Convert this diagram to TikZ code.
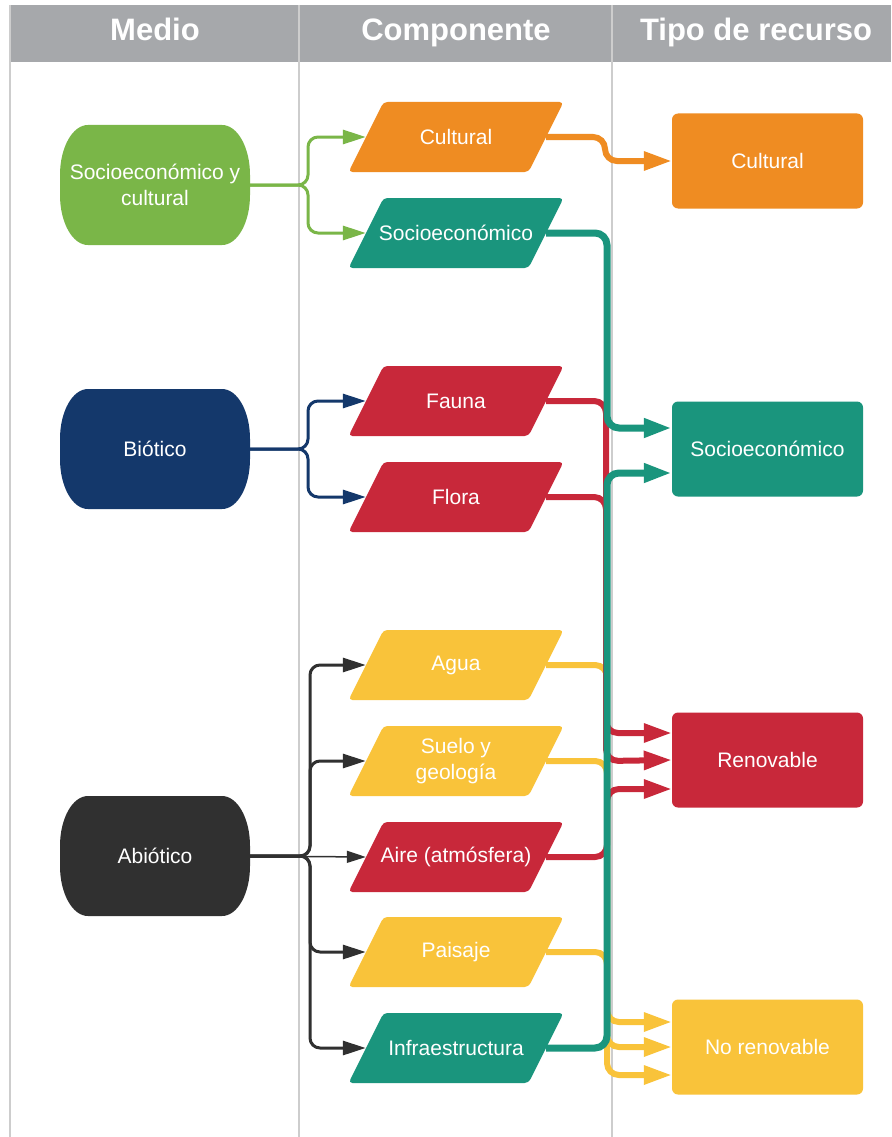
\documentclass[tikz,border=0pt]{standalone}
\usepackage{fontspec}
\setmainfont{Liberation Sans}
\usetikzlibrary{arrows.meta,calc}
\definecolor{cgreen}{HTML}{7AB648}
\definecolor{cnavy}{HTML}{14386B}
\definecolor{cdark}{HTML}{303030}
\definecolor{corange}{HTML}{EF8C22}
\definecolor{cteal}{HTML}{1A957D}
\definecolor{cred}{HTML}{C8283A}
\definecolor{cyellow}{HTML}{F9C33A}
\definecolor{headgray}{HTML}{A6A8AB}
\definecolor{gridgray}{HTML}{CDCDCD}
\tikzset{
  headtext/.style={text=white, font=\fontsize{31}{36}\selectfont\bfseries, inner sep=0pt, anchor=base},
  bodyfont/.style={text=white, font=\fontsize{21}{26}\selectfont, align=center, inner sep=0pt},
  comptext/.style={bodyfont, minimum width=180pt, minimum height=70pt},
  mediotext/.style={bodyfont, minimum width=190pt, minimum height=120pt},
  tipobox/.style={bodyfont, rectangle, rounded corners=6pt, minimum width=191pt, minimum height=95pt},
  gridline/.style={draw=gridgray, line width=2pt},
  leftarr/.style={line width=3pt, rounded corners=10pt, -{Triangle[length=23pt,width=14pt]}},
  thinarr/.style={line width=1.5pt, -{Triangle[length=19pt,width=12pt]}},
  rightarr/.style={line width=6pt, rounded corners=12pt, -{Triangle[length=28pt,width=18pt]}},
  tealarr/.style={rightarr, line width=7pt}
}
% parallelogram component: name, cx, cy, colour, text
\newcommand\compnode[5]{%
  \fill[#4, rounded corners=4pt] (#2-72.5,#3-35) -- (#2+107.5,#3-35) -- (#2+72.5,#3+35) -- (#2-107.5,#3+35) -- cycle;
  \node[comptext] (#1) at (#2,#3) {#5};}
% rounded "stadium" medio: name, cx, cy, colour, text
\newcommand\medionode[5]{%
  \fill[#4] (#2-67,#3-60) -- (#2+67,#3-60)
    .. controls (#2+82.5,#3-60) and (#2+95,#3-37.6) .. (#2+95,#3-10) -- (#2+95,#3+10)
    .. controls (#2+95,#3+37.6) and (#2+82.5,#3+60) .. (#2+67,#3+60) -- (#2-67,#3+60)
    .. controls (#2-82.5,#3+60) and (#2-95,#3+37.6) .. (#2-95,#3+10) -- (#2-95,#3-10)
    .. controls (#2-95,#3-37.6) and (#2-82.5,#3-60) .. cycle;
  \node[mediotext] (#1) at (#2,#3) {#5};}
\begin{document}
\begin{tikzpicture}[x=1pt,y=-1pt]
\useasboundingbox (0,0) rectangle (891,1137);
\fill[white] (0,0) rectangle (891,1137);
% header and grid
\fill[headgray] (10,5) rectangle (891,62);
\draw[gridline] (10,5) -- (10,1137);
\draw[gridline] (299,5) -- (299,1137);
\draw[gridline] (612,5) -- (612,1137);
\node[headtext] (hMedio) at (155,41) {Medio};
\node[headtext] (hComp) at (456,41) {Componente};
\node[headtext] (hTipo) at (756,41) {Tipo de recurso};
% medio
\medionode{sc}{155}{185}{cgreen}{Socioeconómico y\\cultural}
\medionode{bio}{155}{449}{cnavy}{Biótico}
\medionode{abio}{155}{856}{cdark}{Abiótico}
% componentes
\compnode{cultC}{456}{137}{corange}{Cultural}
\compnode{socC}{456}{233}{cteal}{Socioeconómico}
\compnode{fauC}{456}{401}{cred}{Fauna}
\compnode{floC}{456}{497}{cred}{Flora}
\compnode{aguaC}{456}{665}{cyellow}{Agua}
\compnode{sueC}{456}{761}{cyellow}{Suelo y\\geología}
\compnode{aireC}{456}{857}{cred}{Aire (atmósfera)}
\compnode{paiC}{456}{952}{cyellow}{Paisaje}
\compnode{infC}{456}{1048}{cteal}{Infraestructura}
% tipos de recurso
\node[tipobox, fill=corange] (cultR) at (767.5,161) {Cultural};
\node[tipobox, fill=cteal] (socR) at (767.5,449) {Socioeconómico};
\node[tipobox, fill=cred] (renR) at (767.5,760) {Renovable};
\node[tipobox, fill=cyellow] (noR) at (767.5,1047) {No renovable};
% left connectors
\draw[leftarr, color=cgreen] (sc.east) -- (308,185) -- (308,137) -- (cultC.west);
\draw[leftarr, color=cgreen] (sc.east) -- (308,185) -- (308,233) -- (socC.west);
\draw[leftarr, color=cnavy] (bio.east) -- (308,449) -- (308,401) -- (fauC.west);
\draw[leftarr, color=cnavy] (bio.east) -- (308,449) -- (308,497) -- (floC.west);
\draw[leftarr, color=cdark] (abio.east) -- (310,856) -- (310,665) -- (aguaC.west);
\draw[leftarr, color=cdark] (abio.east) -- (310,856) -- (310,761) -- (sueC.west);
\draw[thinarr, color=cdark] (abio.east) -- (aireC.west);
\draw[leftarr, color=cdark] (abio.east) -- (310,856) -- (310,952) -- (paiC.west);
\draw[leftarr, color=cdark] (abio.east) -- (310,856) -- (310,1048) -- (infC.west);
% right connectors: yellow
\draw[rightarr, color=cyellow] (aguaC.east) -- (607,665) -- (607,1022) -- ($(noR.west)+(0,-25)$);
\draw[rightarr, color=cyellow] (sueC.east) -- (607,761) -- (607,1047) -- (noR.west);
\draw[rightarr, color=cyellow] (paiC.east) -- (607,952) -- (607,1075) -- ($(noR.west)+(0,28)$);
% red
\draw[rightarr, color=cred] (fauC.east) -- (606,401) -- (606,733) -- ($(renR.west)+(0,-27)$);
\draw[rightarr, color=cred] (floC.east) -- (606,497) -- (606,761) -- (renR.west);
\draw[rightarr, color=cred] (aireC.east) -- (607,857) -- (607,789) -- ($(renR.west)+(0,29)$);
% orange
\draw[rightarr, color=corange] (cultC.east) -- (605,137) -- (605,161) -- (cultR.west);
% teal
\draw[tealarr, color=cteal] (socC.east) -- (607,233) -- (607,428) -- ($(socR.west)+(0,-21)$);
\draw[tealarr, color=cteal] (infC.east) -- (607,1048) -- (607,473) -- ($(socR.west)+(0,24)$);
\end{tikzpicture}
\end{document}
